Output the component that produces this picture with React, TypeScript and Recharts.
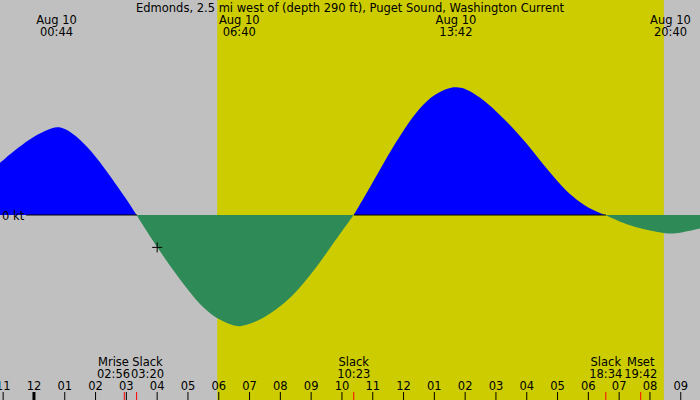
import React from 'react';
import { ComposedChart, Area, XAxis, YAxis, ReferenceArea, ReferenceLine, ReferenceDot } from 'recharts';

const W = 700;
const H = 400;
const FONT = '"DejaVu Sans", sans-serif';
const FS = 11.5;

const title = 'Edmonds, 2.5 mi west of (depth 290 ft), Puget Sound, Washington Current';
const dateLabel = 'Aug 10';

// hours after midnight, Aug 10 / current in knots (+ flood, - ebb)
const hours = [-1.11, -1, -0.5, 0, 0.5, 0.733, 1, 1.5, 2, 2.5, 3, 3.333, 3.5, 4, 4.5, 5, 5.5, 6, 6.5, 6.667, 7, 7.5, 8, 8.5, 9, 9.5, 10, 10.383, 10.5, 11, 11.5, 12, 12.5, 13, 13.5, 13.7, 14, 14.5, 15, 15.5, 16, 16.5, 17, 17.5, 18, 18.567, 19, 19.5, 20, 20.5, 20.667, 21, 21.5, 21.63];
const knots = [0.26, 0.275, 0.338, 0.395, 0.43, 0.442, 0.435, 0.38, 0.295, 0.19, 0.08, 0, -0.042, -0.162, -0.272, -0.375, -0.467, -0.525, -0.555, -0.558, -0.547, -0.512, -0.458, -0.388, -0.297, -0.19, -0.08, 0, 0.03, 0.162, 0.302, 0.425, 0.533, 0.605, 0.638, 0.64, 0.635, 0.588, 0.52, 0.445, 0.358, 0.258, 0.167, 0.088, 0.033, 0, -0.033, -0.06, -0.078, -0.092, -0.093, -0.09, -0.072, -0.067];

const extremeTimes = ['00:44', '06:40', '13:42', '20:40'];
const eventNames = ['Mrise', 'Slack', 'Slack', 'Slack', 'Mset'];
const eventTimes = ['02:56', '03:20', '10:23', '18:34', '19:42'];
const sunTimes = ['05:57', '20:27'];
const markTime = '04:00';
const markKt = -0.162;

const hourLabels = ['11', '12', '01', '02', '03', '04', '05', '06', '07', '08', '09', '10', '11', '12', '01', '02', '03', '04', '05', '06', '07', '08', '09'];

const X_MIN = -1.1026;
const X_MAX = 21.625;
const Y_MIN = -0.925;
const Y_MAX = 1.075;

const toHours = (t: string) => {
  const [hh, mm] = t.split(':').map(Number);
  return hh + mm / 60;
};

const data = hours.map((h, i) => ({ h, kt: knots[i] }));
const hourTicks = hourLabels.map((_, i) => i - 1);
const extremeTicks = extremeTimes.map(toHours);
const eventTicks = eventTimes.map(toHours);

// push apart event labels that would overlap
const PX_PER_HOUR = W / (X_MAX - X_MIN);
const LABEL_W = 34;
const eventShift = eventTicks.map((h, i) => {
  let s = 0;
  const next = eventTicks[i + 1];
  const prev = eventTicks[i - 1];
  if (next !== undefined) {
    const d = (next - h) * PX_PER_HOUR;
    if (d < LABEL_W) s -= (LABEL_W - d) / 2;
  }
  if (prev !== undefined) {
    const d = (h - prev) * PX_PER_HOUR;
    if (d < LABEL_W) s += (LABEL_W - d) / 2;
  }
  return s;
});

// zero line only shows where the current is flooding (ebb fill hides it)
const slackHours = hours.filter((_, i) => knots[i] === 0);
const zeroStops: { offset: number; on: boolean }[] = [];
let flooding = knots[0] > 0;
zeroStops.push({ offset: 0, on: flooding });
slackHours.forEach((h) => {
  const off = (h - X_MIN) / (X_MAX - X_MIN);
  zeroStops.push({ offset: off, on: flooding });
  flooding = !flooding;
  zeroStops.push({ offset: off, on: flooding });
});
zeroStops.push({ offset: 1, on: flooding });

const textStyle = { fontFamily: FONT, fontSize: FS, fill: '#000' };

const HourTick = (props: any) => {
  const { x, payload } = props;
  const h = payload.value;
  return (
    <g>
      <line x1={x} x2={x} y1={H - 8} y2={H} stroke="#000" strokeWidth={h === 0 ? 3 : 1} />
      <text x={x} y={H - 10} textAnchor="middle" {...textStyle}>{hourLabels[h + 1]}</text>
    </g>
  );
};

const EventTick = (props: any) => {
  const { x, index } = props;
  const cx = x + eventShift[index];
  return (
    <g>
      <line x1={x} x2={x} y1={H - 8} y2={H} stroke="#ff0000" strokeWidth={1} />
      <text x={cx} y={H - 34} textAnchor="middle" {...textStyle}>{eventNames[index]}</text>
      <text x={cx} y={H - 22} textAnchor="middle" {...textStyle}>{eventTimes[index]}</text>
    </g>
  );
};

const ExtremeTick = (props: any) => {
  const { x, index } = props;
  return (
    <g>
      <text x={x} y={24} textAnchor="middle" {...textStyle}>{dateLabel}</text>
      <text x={x} y={36} textAnchor="middle" {...textStyle}>{extremeTimes[index]}</text>
    </g>
  );
};

const zeroOffset = Y_MAX / (Y_MAX - Y_MIN);

export default function App() {
  return (
    <div style={{ position: 'absolute', left: 0, top: 0, width: W, height: H, background: '#c0c0c0' }}>
      <ComposedChart width={W} height={H} data={data} margin={{ top: 0, right: 0, bottom: 0, left: 0 }}>
        <defs>
          <linearGradient id="flowFill" gradientUnits="userSpaceOnUse" x1={0} y1={0} x2={0} y2={H}>
            <stop offset={zeroOffset} stopColor="#0000ff" />
            <stop offset={zeroOffset} stopColor="#2e8b57" />
          </linearGradient>
          <linearGradient id="zeroStroke" gradientUnits="userSpaceOnUse" x1={0} y1={0} x2={W} y2={0}>
            {zeroStops.map((s, i) => (
              <stop key={i} offset={s.offset} stopColor={s.on ? '#000' : '#2e8b57'} stopOpacity={s.on ? 1 : 0} />
            ))}
          </linearGradient>
        </defs>
        <XAxis dataKey="h" type="number" domain={[X_MIN, X_MAX]} allowDataOverflow ticks={hourTicks} interval={0}
          mirror height={30} axisLine={false} tickLine={false} tick={<HourTick />} />
        <XAxis xAxisId="ev" dataKey="h" type="number" domain={[X_MIN, X_MAX]} allowDataOverflow ticks={eventTicks} interval={0}
          mirror height={30} axisLine={false} tickLine={false} tick={<EventTick />} />
        <XAxis xAxisId="ext" orientation="top" dataKey="h" type="number" domain={[X_MIN, X_MAX]} allowDataOverflow ticks={extremeTicks} interval={0}
          mirror height={30} axisLine={false} tickLine={false} tick={<ExtremeTick />} />
        <YAxis hide type="number" domain={[Y_MIN, Y_MAX]} allowDataOverflow />
        <ReferenceArea x1={toHours(sunTimes[0])} x2={toHours(sunTimes[1])} fill="#cccc00" fillOpacity={1} stroke="none" />
        <Area dataKey="kt" type="basis" baseValue={0} stroke="none" fill="url(#flowFill)" fillOpacity={1}
          dot={false} activeDot={false} isAnimationActive={false} />
        <ReferenceLine y={0}
          shape={(p: any) => <line x1={p.x1 + 26} x2={p.x2} y1={p.y1} y2={p.y2} stroke="url(#zeroStroke)" strokeWidth={1} />}
          label={(p: any) => <text x={(p.viewBox?.x ?? 0) + 2} y={(p.viewBox?.y ?? 215) + 5} {...textStyle}>0 kt</text>} />
        <ReferenceDot x={toHours(markTime)} y={markKt} r={4}
          shape={(p: any) => (
            <g>
              <line x1={p.cx - 5} x2={p.cx + 5} y1={p.cy} y2={p.cy} stroke="#000" />
              <line x1={p.cx} x2={p.cx} y1={p.cy - 5} y2={p.cy + 5} stroke="#000" />
            </g>
          )} />
      </ComposedChart>
      <div style={{ position: 'absolute', left: 0, top: 1, width: W, textAlign: 'center', fontFamily: FONT, fontSize: FS, lineHeight: '14px', color: '#000' }}>
        {title}
      </div>
    </div>
  );
}
